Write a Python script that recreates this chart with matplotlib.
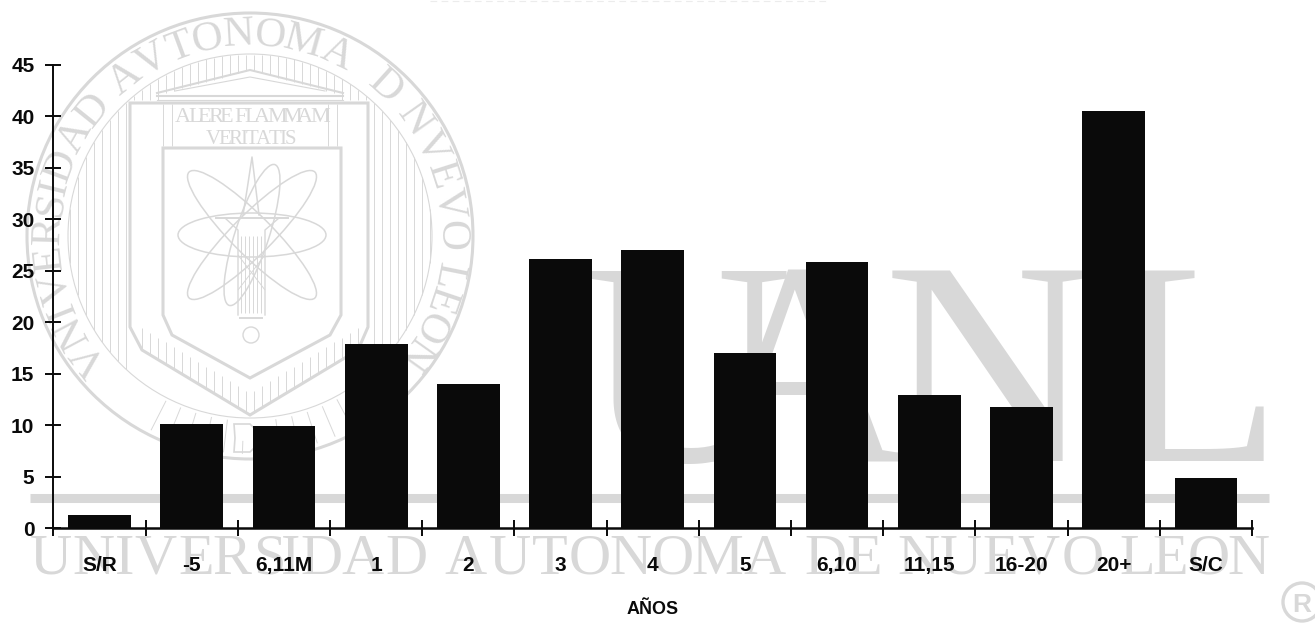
"""Bar chart by years (AÑOS) over the UANL thesis watermark."""
import numpy as np
import matplotlib
matplotlib.use('Agg')
import matplotlib.pyplot as plt
from matplotlib.font_manager import FontProperties
from matplotlib.patches import Circle, Ellipse, Polygon
from matplotlib.textpath import TextPath

categories = ['S/R', '-5', '6,11M', '1', '2', '3', '4', '5', '6,10', '11,15', '16-20', '20+', 'S/C']
values = [1.3, 10.1, 9.9, 17.9, 14.0, 26.1, 27.0, 17.0, 25.9, 12.9, 11.8, 40.5, 4.9]
y_ticks = [0, 5, 10, 15, 20, 25, 30, 35, 40, 45]
x_title = 'AÑOS'

W, H = 1315, 623
WM = '#d8d8d8'
INK = '#0a0a0a'
SERIF = FontProperties(family='Liberation Serif')
CX, CY = 250, 236

fig = plt.figure(figsize=(W / 100, H / 100), dpi=100, facecolor='white')

# watermark layer, in pixel coordinates
wm = fig.add_axes([0, 0, 1, 1], zorder=0)
wm.set_xlim(0, W); wm.set_ylim(H, 0); wm.axis('off')


def advance(ch):
    if ch == ' ':
        return 0.3
    return TextPath((0, 0), ch, size=1, prop=SERIF).get_extents().width + 0.07


def row_text(s, x0, x1, y, size):
    # squeezes a serif line into its width, letter by letter
    adv = np.array([advance(c) for c in s])
    xs = x0 + np.concatenate([[0], np.cumsum(adv)[:-1]]) * (x1 - x0) / adv.sum()
    for c, x in zip(s, xs):
        wm.text(x, y, c, color=WM, fontproperties=SERIF, fontsize=size, ha='left', va='baseline')


def arc_text(s, r, a0, a1, size):
    adv = np.array([advance(c) for c in s])
    mids = np.cumsum(adv) - adv / 2
    angles = a0 + mids / adv.sum() * (a1 - a0)
    for c, a in zip(s, angles):
        t = np.radians(a)
        wm.text(CX + r * np.sin(t), CY - r * np.cos(t), c, color=WM, fontproperties=SERIF,
                fontsize=size, rotation=-a, rotation_mode='anchor', ha='center', va='center')


def hair(x0, y0, x1, y1):
    wm.plot([x0, x1], [y0, y1], color=WM, lw=0.7, solid_capstyle='butt')


wm.add_patch(Circle((CX, CY), 223, fill=False, ec=WM, lw=2.2))
wm.add_patch(Circle((CX, CY), 182, fill=False, ec=WM, lw=0.8))
arc_text('VNIVERSIDAD AVTONOMA  D NVEVO LEON', 201, -132, 130, 31)

# hairlines left and right of the building
for x in np.arange(70, 130, 8):
    dy = np.sqrt(182 ** 2 - (x - CX) ** 2)
    hair(x, CY - dy, x, CY + dy)
    hair(2 * CX - x, CY - dy, 2 * CX - x, CY + dy)
# hairlines above the roof
for x in np.arange(134, 368, 8):
    dy = np.sqrt(182 ** 2 - (x - CX) ** 2)
    hair(x, max(CY - dy, 55), x, 70 + abs(x - CX) * 25 / 92 if abs(x - CX) < 92 else 100)

# roof and frieze
wm.plot([157, 250, 343], [93, 70, 93], color=WM, lw=1.5)
wm.plot([175, 250, 325], [91, 77, 91], color=WM, lw=0.8)
wm.plot([157, 343], [96, 96], color=WM, lw=1.5)
wm.plot([157, 343], [100, 100], color=WM, lw=0.8)
for x in (163, 172, 328, 337):
    hair(x, 104, x, 146)

# frame and shield
wm.add_patch(Polygon([(130, 103), (368, 103), (368, 327), (358, 350), (250, 415), (142, 350), (130, 327)],
                     closed=True, fill=False, ec=WM, lw=2.2))
wm.add_patch(Polygon([(163, 148), (341, 148), (341, 315), (330, 335), (250, 378), (172, 335), (163, 315)],
                     closed=True, fill=False, ec=WM, lw=2.2))
for x in np.arange(142, 360, 8):
    y = 415 - abs(x - CX) * 65 / 108
    hair(x, y - 22, x, y)
row_text('ALERE FLAMMAM', 175, 325, 122, 16)
row_text('VERITATIS', 206, 293, 144, 15)

# rays under the shield
for a in np.arange(152, 210, 5):
    t = np.radians(a)
    r0 = 185 if abs(a - 180) > 6 else 205
    hair(CX + r0 * np.sin(t), CY - r0 * np.cos(t), CX + 218 * np.sin(t), CY - 218 * np.cos(t))
wm.add_patch(Polygon([(234, 424), (250, 424), (258, 432), (258, 444), (250, 452), (234, 452), (235, 438)],
                     closed=True, fill=False, ec=WM, lw=1.2))

# atom and torch
for angle, w, h in ((0, 148, 44), (45, 178, 40), (-45, 178, 40), (-72, 148, 34)):
    wm.add_patch(Ellipse((252, 235), w, h, angle=angle, fill=False, ec=WM, lw=1.1))
wm.plot([243, 247, 252, 256, 259], [215, 190, 157, 190, 215], color=WM, lw=1.1)
wm.plot([216, 288], [218, 218], color=WM, lw=1.4)
wm.plot([225, 238, 238], [218, 230, 315], color=WM, lw=1)
wm.plot([279, 265, 265], [218, 230, 315], color=WM, lw=1)
for x in np.arange(241, 265, 4):
    hair(x, 236, x, 313)
hair(238, 255, 265, 290); hair(265, 255, 238, 290)
wm.plot([240, 262], [318, 318], color=WM, lw=1.4)
wm.add_patch(Circle((251, 335), 8, fill=False, ec=WM, lw=1))

# big letters, rule and bottom line
for letter, x in zip('UANL', (583, 698, 884, 1105)):
    wm.text(x, 461, letter, color=WM, fontproperties=SERIF, fontsize=209, ha='left', va='baseline')
wm.plot([30, 1269], [497.5, 497.5], color=WM, lw=6.5, solid_capstyle='butt')
row_text('UNIVERSIDAD AUTONOMA DE NUEVO LEON', 30, 1270, 574, 42)
wm.add_patch(Circle((1302, 602), 19, fill=False, ec=WM, lw=2.4))
wm.text(1302, 602, 'R', color=WM, family='Liberation Sans', fontweight='bold', fontsize=19,
        ha='center', va='center_baseline')
wm.plot([430, 830], [0.5, 0.5], color='#ececec', lw=0.8, ls=(0, (6, 4)))

# the chart
ax = fig.add_axes([53.5 / W, (H - 528) / H, (1252 - 53.5) / W, (528 - 65) / H], zorder=1)
ax.patch.set_visible(False)
centers = np.arange(len(categories)) + 0.5
ax.bar(centers, values, width=0.68, color=INK)
ax.set_xlim(0, len(categories)); ax.set_ylim(0, 45)
for side in ('top', 'right'):
    ax.spines[side].set_visible(False)
ax.spines['left'].set_linewidth(1.4)
ax.spines['bottom'].set_linewidth(1.8)
for side in ('left', 'bottom'):
    ax.spines[side].set_color(INK)

label_font = dict(family='Liberation Sans', fontweight='bold', fontsize=15, color=INK)
ax.set_yticks(y_ticks)
ax.set_yticklabels([str(v) for v in y_ticks], **label_font)
ax.tick_params(axis='y', direction='inout', length=11.5, width=1.4, color=INK, pad=8)
ax.set_xticks(np.arange(len(categories) + 1))
ax.set_xticklabels([])
ax.tick_params(axis='x', direction='inout', length=11.5, width=1.4, color=INK)
ax.set_xticks(centers, minor=True)
ax.set_xticklabels(categories, minor=True, **label_font)
ax.tick_params(axis='x', which='minor', length=0, pad=20)
ax.set_xlabel(x_title, family='Liberation Sans', fontweight='bold', fontsize=13, color=INK, labelpad=19)

fig.savefig('out.png', dpi=100)
